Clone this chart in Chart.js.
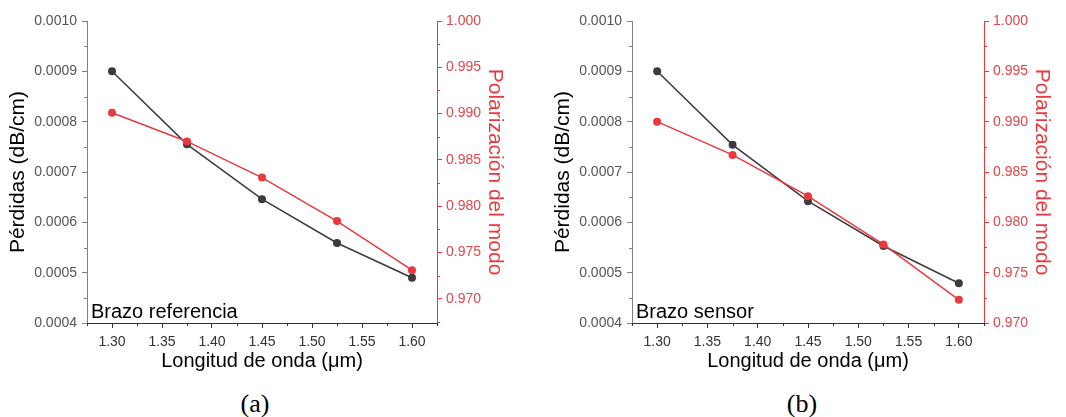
<!DOCTYPE html>
<html>
<head>
<meta charset="utf-8">
<script src="https://cdn.jsdelivr.net/npm/chart.js@4"></script>
<style>
  body { margin: 0; background: #fff; }
  #page { position: relative; width: 1066px; height: 417px; overflow: hidden; }
  .panel { position: absolute; top: 0; }
  .tag {
    position: absolute; top: 391px; width: 60px; margin-left: -30px;
    text-align: center; font: 26px "Liberation Serif", serif; line-height: 26px; color: #000;
  }
</style>
</head>
<body>
<div id="page">
  <div class="panel" style="left:0px"><canvas id="chartRef" width="533" height="380"></canvas></div>
  <div class="panel" style="left:545px"><canvas id="chartSensor" width="521" height="380"></canvas></div>
  <div class="tag" style="left:255px">(a)</div>
  <div class="tag" style="left:802px">(b)</div>
</div>

<script>
// wavelengths (µm)
const wavelengths = [1.30, 1.375, 1.45, 1.525, 1.60];

// reference arm
const lossRef = [0.000900, 0.000755, 0.000646, 0.000559, 0.000490];
const polRef = [0.9901, 0.9870, 0.9831, 0.9784, 0.9731];

// sensor arm
const lossSensor = [0.000900, 0.000754, 0.000642, 0.000553, 0.000479];
const polSensor = [0.9900, 0.9867, 0.9826, 0.9778, 0.9723];

// axis ticks
const xTicks = [1.30, 1.35, 1.40, 1.45, 1.50, 1.55, 1.60];
const lossTicks = [0.0004, 0.0005, 0.0006, 0.0007, 0.0008, 0.0009, 0.0010];
const polTicks = [0.970, 0.975, 0.980, 0.985, 0.990, 0.995, 1.000];

const BLACK = "#3b3b3b";
const RED = "#e8393e";
const FONT = "'Liberation Sans', Arial, sans-serif";

// -------------------------
// small ticks between the labelled ones
// -------------------------
const minorTicks = {
  id: "minorTicks",
  afterDraw(chart) {
    const ctx = chart.ctx;
    ctx.save();
    ctx.lineWidth = 1;
    Object.values(chart.scales).forEach((scale) => {
      const ticks = scale.ticks;
      if (ticks.length < 2) return;
      const half = (ticks[1].value - ticks[0].value) / 2;
      const eps = half / 100;
      const values = [ticks[0].value - half];
      ticks.forEach((t) => values.push(t.value + half));
      ctx.strokeStyle = scale.options.border.color;
      values.forEach((v) => {
        if (v < scale.min - eps || v > scale.max + eps) return;
        const p = Math.round(scale.getPixelForValue(v)) + 0.5;
        ctx.beginPath();
        if (scale.position === "left") {
          ctx.moveTo(scale.right, p);
          ctx.lineTo(scale.right - 3, p);
        } else if (scale.position === "right") {
          ctx.moveTo(scale.left, p);
          ctx.lineTo(scale.left + 3, p);
        } else {
          ctx.moveTo(p, scale.top);
          ctx.lineTo(p, scale.top + 3);
        }
        ctx.stroke();
      });
    });
    ctx.restore();
  },
};

// -------------------------
// arm name in the lower left corner
// -------------------------
const cornerNote = {
  id: "cornerNote",
  afterDraw(chart, args, opts) {
    const { ctx, chartArea } = chart;
    ctx.save();
    ctx.font = "20px " + FONT;
    ctx.fillStyle = "#000";
    ctx.textBaseline = "alphabetic";
    ctx.fillText(opts.text, chartArea.left + 4, chartArea.bottom - 5);
    ctx.restore();
  },
};

function makePanel(id, p) {
  const points = (ys) => wavelengths.map((x, i) => ({ x: x, y: ys[i] }));

  new Chart(document.getElementById(id), {
    type: "line",
    data: {
      datasets: [
        {
          data: points(p.pol),
          yAxisID: "y2",
          borderColor: RED,
          backgroundColor: RED,
          borderWidth: 1.5,
          pointRadius: 4,
          pointBorderWidth: 0,
        },
        {
          data: points(p.loss),
          yAxisID: "y",
          borderColor: BLACK,
          backgroundColor: BLACK,
          borderWidth: 1.5,
          pointRadius: 4,
          pointBorderWidth: 0,
        },
      ],
    },
    options: {
      responsive: false,
      animation: false,
      events: [],
      layout: { padding: { top: 21, left: 0, right: 0, bottom: 0 } },
      plugins: {
        legend: { display: false },
        tooltip: { enabled: false },
        cornerNote: { text: p.note },
      },
      scales: {
        x: {
          type: "linear",
          min: 1.275,
          max: 1.625,
          afterBuildTicks: (s) => { s.ticks = xTicks.map((v) => ({ value: v })); },
          afterFit: (s) => { s.height = 57; },
          ticks: { callback: (v) => v.toFixed(2), color: "#333", font: { family: FONT, size: 14 }, padding: 6 },
          grid: { drawOnChartArea: false, tickLength: 5, tickColor: "#333" },
          border: { color: "#333" },
          title: {
            display: true,
            text: "Longitud de onda (μm)",
            color: "#000",
            font: { family: FONT, size: 20 },
            padding: { top: 0, bottom: 7 },
          },
        },
        y: {
          position: "left",
          min: 0.0004,
          max: 0.0010,
          afterBuildTicks: (s) => { s.ticks = lossTicks.map((v) => ({ value: v })); },
          afterFit: (s) => { s.width = 87; },
          ticks: { callback: (v) => v.toFixed(4), color: "#555", font: { family: FONT, size: 14 }, padding: 5 },
          grid: { drawOnChartArea: false, tickLength: 5, tickColor: "#808080" },
          border: { color: "#808080" },
          title: {
            display: true,
            text: "Pérdidas (dB/cm)",
            color: "#000",
            font: { family: FONT, size: 21 },
            padding: { top: 6, bottom: 0 },
          },
        },
        y2: {
          position: "right",
          min: p.polMin,
          max: 1.0,
          afterBuildTicks: (s) => { s.ticks = polTicks.map((v) => ({ value: v })); },
          afterFit: (s) => { s.width = p.rightWidth; },
          ticks: { callback: (v) => v.toFixed(3), color: "#e0474c", font: { family: FONT, size: 14 }, padding: 4 },
          grid: { drawOnChartArea: false, tickLength: 5, tickColor: RED },
          border: { color: RED },
          title: {
            display: true,
            text: "Polarización del modo",
            color: RED,
            font: { family: FONT, size: 21 },
            padding: { top: p.rightWidth - 57.5 - 12.6, bottom: 0 },
          },
        },
      },
    },
    plugins: [minorTicks, cornerNote],
  });
}

makePanel("chartRef", {
  loss: lossRef,
  pol: polRef,
  polMin: 0.9674,
  rightWidth: 96,
  note: "Brazo referencia",
});

makePanel("chartSensor", {
  loss: lossSensor,
  pol: polSensor,
  polMin: 0.970,
  rightWidth: 82,
  note: "Brazo sensor",
});
</script>
</body>
</html>
